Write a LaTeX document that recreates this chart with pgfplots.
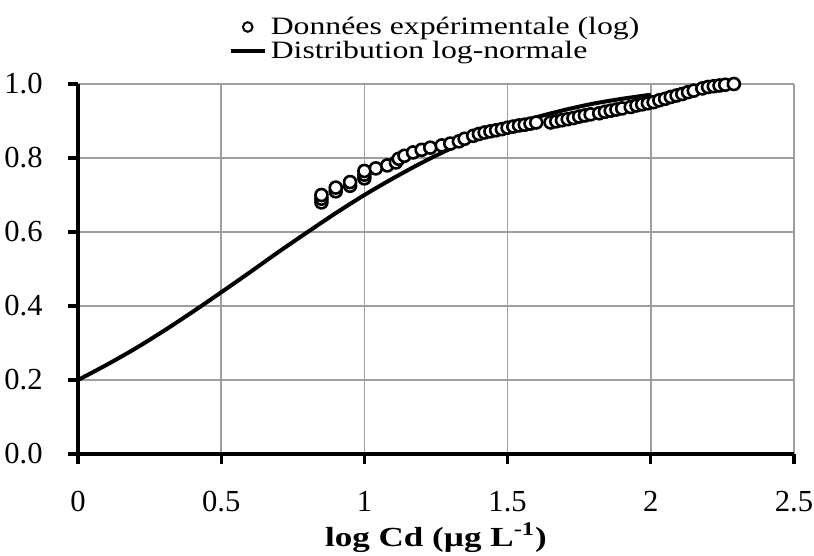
\documentclass[border=0pt]{standalone}
\usepackage{fontspec}
\setmainfont{Liberation Serif}
\newfontfamily\widefont{Liberation Serif}[FakeStretch=1.27]
\usepackage{pgfplots}
\pgfplotsset{compat=1.18}
\begin{document}
\begin{tikzpicture}
\begin{axis}[
    name=ax,
    scale only axis, width=358pt, height=185pt,
    xmin=0, xmax=2.5, ymin=0, ymax=1.0,
    axis lines=left, axis line style={-, line width=2pt},
    xtick={0,0.5,1,1.5,2,2.5}, ytick={0,0.2,0.4,0.6,0.8,1.0},
    grid=major, major grid style={black!38, line width=0.8pt},
    tick align=outside, major tick length=5pt,
    tick style={black, line width=1.6pt},
    /pgf/number format/assume math mode=true,
    ticklabel style={font=\fontsize{15.3}{18}\selectfont, inner sep=0pt},
    yticklabel style={anchor=east, xshift=-12.5pt, /pgf/number format/.cd, fixed, fixed zerofill, precision=1},
    xticklabel style={anchor=base, yshift=-23.5pt, /pgf/number format/.cd, fixed},
    xlabel={\textbf{log Cd (µg L\textsuperscript{-1})}},
    xlabel style={font=\widefont\fontsize{13.8}{16}\selectfont, inner sep=0pt,
        at={(axis description cs:0.5,0)}, anchor=base, yshift=-46pt},
    legend style={draw=none, fill=none, at={(0.5,1)}, anchor=south, yshift=10.6pt,
        font=\widefont\fontsize{12.5}{12}\selectfont, row sep=0pt, inner sep=0pt,
        nodes={text height=9.7pt, text depth=2.1pt, inner ysep=0pt}},
    legend cell align=left,
]
\addlegendimage{only marks, mark=*, mark size=2.4pt, mark options={fill=white, draw=black, line width=1pt}}
\addlegendimage{black, line width=2pt}
\legend{Données expérimentale (log), Distribution log-normale}

% log-normal fit
\addplot[black, line width=2pt, smooth, forget plot] coordinates {
(0.0,0.200) (0.1,0.241) (0.2,0.285) (0.3,0.333) (0.4,0.384) (0.5,0.437)
(0.6,0.491) (0.7,0.546) (0.8,0.599) (0.9,0.651) (1.0,0.700) (1.1,0.745)
(1.2,0.787) (1.3,0.825) (1.4,0.858) (1.5,0.886) (1.6,0.910) (1.7,0.930)
(1.8,0.947) (1.9,0.960) (2.0,0.971)
};

% experimental data
\addplot[only marks, mark=*, mark size=3pt, mark options={fill=white, draw=black, line width=1.3pt}, forget plot] coordinates {
(0.85,0.680) (0.85,0.690) (0.85,0.700) (0.90,0.710) (0.90,0.720)
(0.95,0.725) (0.95,0.735) (1.00,0.745) (1.00,0.755) (1.00,0.765)
(1.04,0.772) (1.08,0.780) (1.11,0.788) (1.12,0.798) (1.14,0.806)
(1.17,0.815) (1.20,0.822) (1.23,0.828) (1.27,0.834) (1.30,0.839)
(1.33,0.845) (1.35,0.852) (1.38,0.860) (1.40,0.865) (1.42,0.869)
(1.44,0.872) (1.46,0.875) (1.48,0.878) (1.50,0.882) (1.52,0.885)
(1.54,0.888) (1.56,0.890) (1.58,0.893) (1.60,0.896) (1.65,0.896)
(1.67,0.899) (1.69,0.902) (1.71,0.905) (1.73,0.908) (1.75,0.912)
(1.77,0.915) (1.79,0.918) (1.82,0.921) (1.84,0.925) (1.86,0.928)
(1.88,0.931) (1.90,0.934) (1.93,0.938) (1.95,0.942) (1.97,0.945)
(1.99,0.948) (2.01,0.951) (2.03,0.956) (2.05,0.960) (2.07,0.965)
(2.09,0.969) (2.11,0.973) (2.13,0.978) (2.15,0.982) (2.18,0.988)
(2.20,0.992) (2.22,0.994) (2.24,0.996) (2.26,0.998) (2.29,1.000)
};
\end{axis}
% page margins as in the reference
\path ([xshift=-39pt, yshift=-51pt]ax.south west) ([xshift=10pt, yshift=42pt]ax.north east);
\end{tikzpicture}
\end{document}
